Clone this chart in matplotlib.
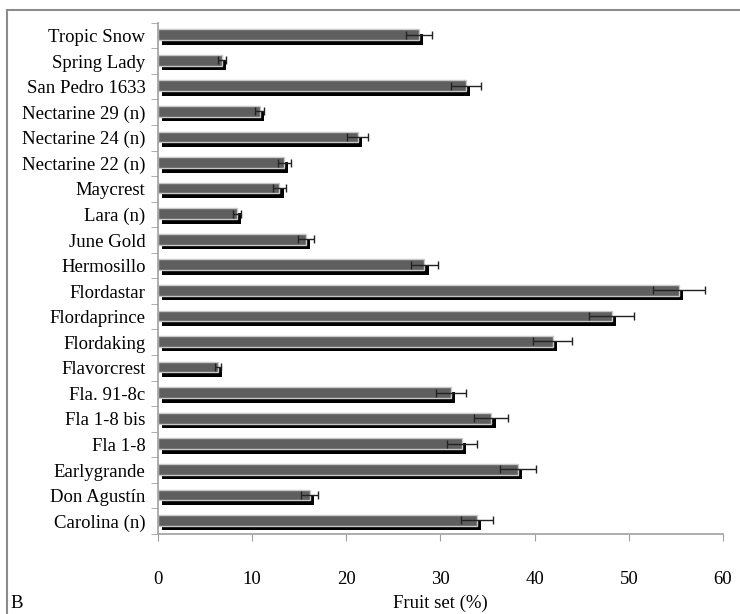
import numpy as np
import matplotlib
matplotlib.use("Agg")
import matplotlib.pyplot as plt
from matplotlib.lines import Line2D

plt.rcParams['font.family'] = ['Liberation Serif', 'DejaVu Serif']

# listed top to bottom as in the chart
cultivars = ["Tropic Snow", "Spring Lady", "San Pedro 1633", "Nectarine 29 (n)",
             "Nectarine 24 (n)", "Nectarine 22 (n)", "Maycrest", "Lara (n)",
             "June Gold", "Hermosillo", "Flordastar", "Flordaprince", "Flordaking",
             "Flavorcrest", "Fla. 91-8c", "Fla 1-8 bis", "Fla 1-8", "Earlygrande",
             "Don Agustín", "Carolina (n)"]
fruit_set = [27.7, 6.8, 32.7, 10.8, 21.2, 13.4, 12.9, 8.4, 15.7, 28.3,
             55.3, 48.2, 41.9, 6.4, 31.1, 35.4, 32.3, 38.2, 16.1, 33.9]
fruit_err = [1.4, 0.4, 1.6, 0.5, 1.1, 0.7, 0.65, 0.4, 0.85, 1.4,
             2.75, 2.4, 2.1, 0.3, 1.6, 1.8, 1.6, 1.9, 0.9, 1.7]
xticks = [0, 10, 20, 30, 40, 50, 60]

n = len(cultivars)
y = np.arange(n)[::-1]

fig = plt.figure(figsize=(7.4, 6.14), dpi=100)
ax = fig.add_axes([0.2135, 0.1303, 0.7635, 0.8327])

# black drop shadow, then the gray bar on top
ax.barh(y - 0.16, fruit_set, left=0.45, height=0.4, color="black", zorder=1)
ax.barh(y + 0.03, fruit_set, height=0.42, color="#5f5f5f", edgecolor="#c8c8c8",
        linewidth=1, zorder=2)
ax.errorbar(fruit_set, y + 0.03, xerr=fruit_err, fmt="none", ecolor="#222222",
            elinewidth=1, capsize=3, capthick=1, zorder=3)

ax.set_xlim(0, 60)
ax.set_ylim(-0.5, n - 0.5)
ax.set_xticks(xticks)
ax.set_yticks(y)
ax.set_yticklabels(cultivars)
ax.set_yticks(np.arange(n + 1) - 0.5, minor=True)
ax.tick_params(axis="y", which="major", length=0, pad=9, labelsize=13.5)
ax.tick_params(axis="y", which="minor", length=5, color="#a0a0a0", direction="out")
ax.tick_params(axis="x", length=5, color="#a0a0a0", direction="out", pad=22,
               labelsize=13.5)

for side in ["top", "right"]:
    ax.spines[side].set_visible(False)
for side in ["left", "bottom"]:
    ax.spines[side].set_color("#a0a0a0")
    ax.spines[side].set_linewidth(1.2)

fig.text(440 / 740, 1 - 603 / 614, "Fruit set (%)", ha="center", va="center",
         fontsize=13.5)
fig.text(10 / 740, 1 - 603 / 614, "B", ha="left", va="center", fontsize=13.5)

# outer frame (only top and left edges fall inside the picture)
fig.add_artist(Line2D([7 / 740, 1], [1 - 10 / 614, 1 - 10 / 614],
                      transform=fig.transFigure, color="#8c8c8c", lw=1.5))
fig.add_artist(Line2D([7 / 740, 7 / 740], [0, 1 - 10 / 614],
                      transform=fig.transFigure, color="#8c8c8c", lw=1.5))

fig.savefig("out.png", dpi=100)
